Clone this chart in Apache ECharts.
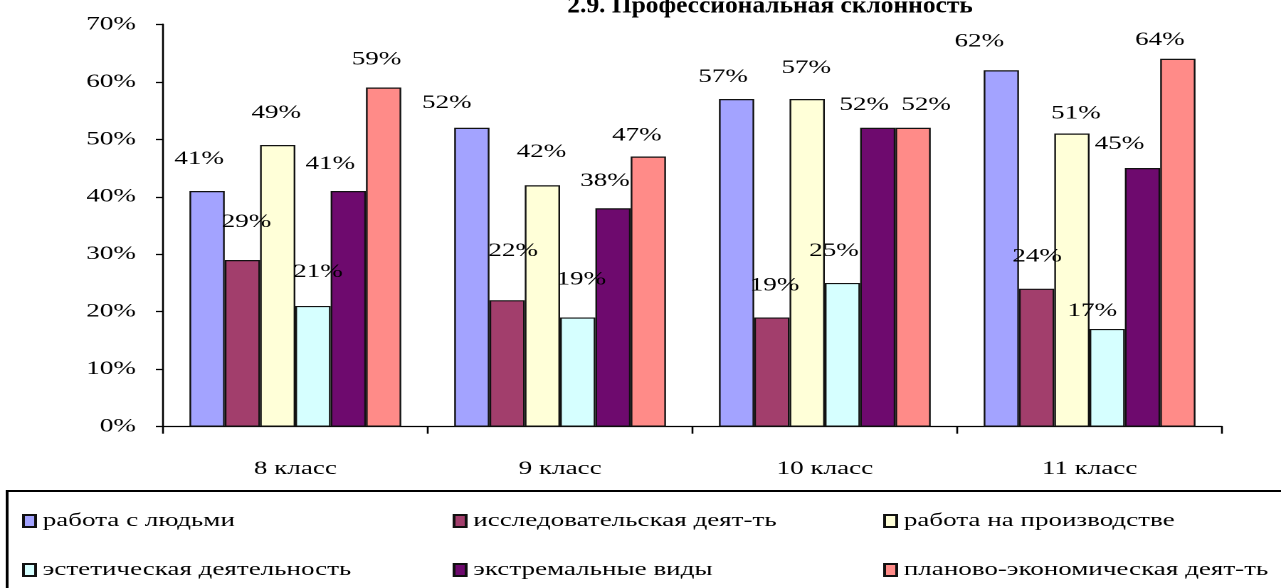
<!DOCTYPE html>
<html>
<head>
<meta charset="utf-8">
<script src="https://cdn.jsdelivr.net/npm/echarts@6/dist/echarts.min.js"></script>
<style>
  html, body { margin: 0; padding: 0; background: #fff; overflow: hidden; }
  /* the source picture is a horizontally stretched chart, so draw narrow and stretch */
  #chart { width: 900px; height: 588px; transform: scaleX(1.42333); transform-origin: 0 0; }
</style>
</head>
<body>
<div id="chart"></div>
<script>
const classes = ['8 класс', '9 класс', '10 класс', '11 класс']
const seriesNames = [
  'работа с людьми',
  'исследовательская деят-ть',
  'работа на производстве',
  'эстетическая деятельность',
  'экстремальные виды',
  'планово-экономическая деят-ть'
]
const peopleWork = [41, 52, 57, 62]
const researchWork = [29, 22, 19, 24]
const productionWork = [49, 42, 57, 51]
const aestheticWork = [21, 19, 25, 17]
const extremeKinds = [41, 38, 52, 45]
const planningWork = [59, 47, 52, 64]
const seriesColors = ['#A3A3FF', '#A23E6C', '#FFFFD8', '#D6FFFF', '#6E0A6E', '#FF8B88']

// hand-placed label nudges as in the source: [shift x, height of label centre above bar top], screen px
const labelNudges = [
  [[-8, 32], [-25, 25], [-13.5, 22], [-22, 29]],
  [[4, 38], [6, 49], [2.7, 32], [0.5, 32]],
  [[-1.5, 32], [-1, 33], [-1, 31], [4, 20]],
  [[5, 34], [3.5, 38], [-8.5, 32], [-15, 18]],
  [[-18, 27], [-8, 27], [-13.5, 23], [-23, 24]],
  [[-7, 28], [-11.5, 21], [13, 23], [-18, 18.6]]
]

const STRETCH = 1.42333
const font = 'Liberation Serif, Times New Roman, serif'
const values = [peopleWork, researchWork, productionWork, aestheticWork, extremeKinds, planningWork]

const chart = echarts.init( document.getElementById( 'chart' ), null, { renderer : 'canvas', devicePixelRatio : 2 } )

chart.setOption( {
  backgroundColor : '#fff',
  animation : false,
  textStyle : { fontFamily : font },
  // title is cut by the top edge in the source, and narrower than the rest of the text
  graphic : [
    {
      type : 'text',
      x : 541,
      y : 6.5,
      scaleX : 0.745,
      style : {
        text : '2.9. Профессиональная склонность',
        fill : '#000',
        font : 'bold 24px ' + font,
        align : 'center',
        verticalAlign : 'middle'
      }
    }
  ],
  legend : {
    data : seriesNames,
    left : 5,
    top : 491,
    width : 880,
    padding : [20, 30, 20, 10.5],
    borderColor : '#000',
    borderWidth : 2,
    backgroundColor : '#fff',
    icon : 'rect',
    itemWidth : 8.5,
    itemHeight : 12,
    itemGap : 29,
    textStyle : {
      fontFamily : font,
      fontSize : 19,
      lineHeight : 20,
      color : '#000',
      width : 259,
      overflow : 'none'
    }
  },
  grid : {
    left : 114.5,
    right : 41.5,
    top : 24.3,
    bottom : 161.3,
    containLabel : false,
    outerBoundsMode : 'none'
  },
  xAxis : {
    type : 'category',
    data : classes,
    axisLine : { lineStyle : { color : '#000', width : 1.3 } },
    axisTick : { show : true, length : 7, lineStyle : { color : '#000', width : 1.3 } },
    axisLabel : { margin : 33, fontFamily : font, fontSize : 19, color : '#000' }
  },
  yAxis : {
    type : 'value',
    min : 0,
    max : 70,
    interval : 10,
    splitLine : { show : false },
    axisLine : { show : true, lineStyle : { color : '#000', width : 1.3 } },
    axisTick : { show : true, length : 5, lineStyle : { color : '#000', width : 1.3 } },
    axisLabel : {
      margin : 19,
      formatter : '{value}%',
      fontFamily : font,
      fontSize : 19,
      color : '#000',
      padding : [7, 0, 0, 0]
    }
  },
  series : seriesNames.map( ( name, i ) => ( {
    name : name,
    type : 'bar',
    data : values[i].map( ( v, j ) => ( {
      value : v,
      label : {
        offset : [labelNudges[i][j][0] / STRETCH, -( labelNudges[i][j][1] - 10 )]
      }
    } ) ),
    barGap : '0%',
    barCategoryGap : '20%',
    itemStyle : {
      color : seriesColors[i],
      borderColor : '#111',
      borderWidth : 1.2
    },
    label : {
      show : true,
      position : 'top',
      distance : 0,
      formatter : '{c}%',
      fontFamily : font,
      fontSize : 19,
      lineHeight : 20,
      color : '#000'
    }
  } ) )
} )
</script>
</body>
</html>
